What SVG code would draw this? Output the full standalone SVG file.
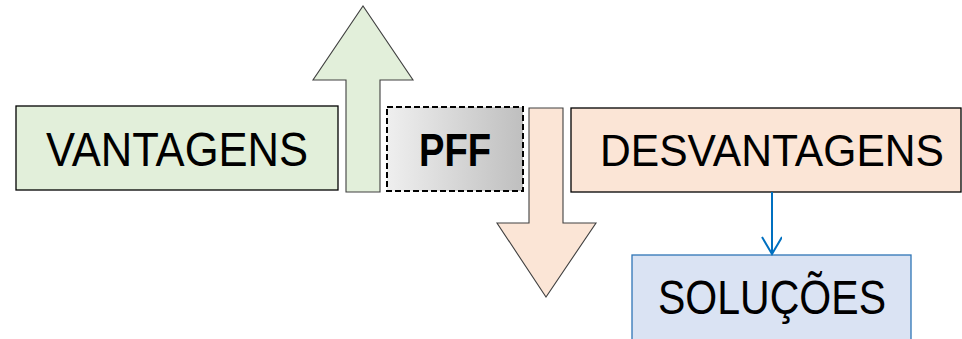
<svg xmlns="http://www.w3.org/2000/svg" width="962" height="339" viewBox="0 0 962 339">
<style>
.lbl{font-family:"Liberation Sans",Arial,sans-serif;font-size:48px;fill:#000;text-anchor:middle}
.bold{font-weight:bold;font-size:46px}
.shape{stroke:#404040;stroke-width:1.1}
</style>
<defs>
<linearGradient id="g" x1="0" y1="0" x2="1" y2="0">
<stop offset="0" stop-color="#EFEFEF"/>
<stop offset="1" stop-color="#BFBFBF"/>
</linearGradient>
<marker id="ah" markerWidth="24" markerHeight="24" refX="18" refY="10" orient="auto" markerUnits="userSpaceOnUse">
<path d="M1,0 L18,10 L1,20" fill="none" stroke="#0070C0" stroke-width="2"/>
</marker>
</defs>
<g id="vantagens">
<rect x="16" y="106" width="322" height="84" fill="#E2EFDA" stroke="#000" stroke-width="1.3"/>
<text class="lbl" x="177" y="166" textLength="262" lengthAdjust="spacingAndGlyphs">VANTAGENS</text>
</g>
<g id="arrow-up">
<polygon class="shape" points="346,192 346,80 313,80 363,6 413,80 380,80 380,192" fill="#E2EFDA"/>
</g>
<g id="pff">
<rect x="387" y="107" width="136" height="84" fill="url(#g)" stroke="#000" stroke-width="2" stroke-dasharray="6,3"/>
<text class="lbl bold" x="455" y="166" textLength="72" lengthAdjust="spacingAndGlyphs">PFF</text>
</g>
<g id="arrow-down">
<polygon class="shape" points="529,108 563,108 563,223 596,223 546,297 497,223 529,223" fill="#FBE5D6"/>
</g>
<g id="desvantagens">
<rect x="571" y="108" width="390" height="84" fill="#FBE5D6" stroke="#000" stroke-width="1.3"/>
<text class="lbl" x="772" y="166" style="font-size:45px" textLength="344" lengthAdjust="spacingAndGlyphs">DESVANTAGENS</text>
</g>
<g id="solucoes">
<rect x="632" y="255" width="279" height="100" fill="#DAE3F3" stroke="#2E75B6" stroke-width="1.3"/>
<text class="lbl" x="772" y="314" textLength="228" lengthAdjust="spacingAndGlyphs">SOLUÇÕES</text>
</g>
<g id="connectors">
<line x1="772" y1="192" x2="772" y2="254" stroke="#0070C0" stroke-width="2" marker-end="url(#ah)"/>
</g>
</svg>
